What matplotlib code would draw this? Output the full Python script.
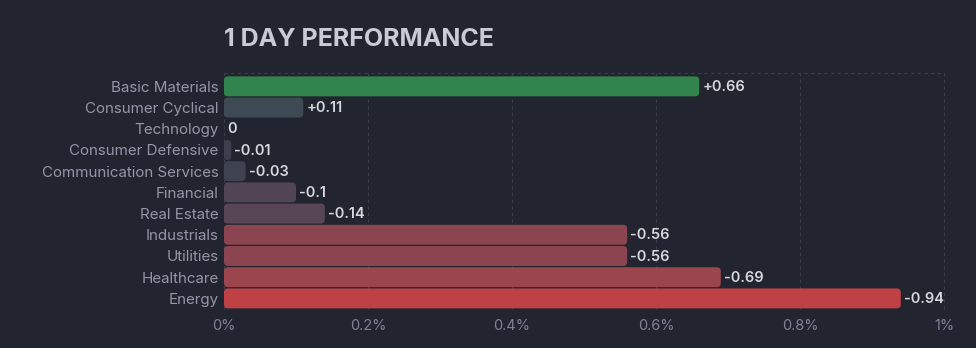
import matplotlib
matplotlib.use("Agg")
from matplotlib import pyplot as plt
from matplotlib.patches import FancyBboxPatch

sectors = ["Basic Materials", "Consumer Cyclical", "Technology", "Consumer Defensive",
           "Communication Services", "Financial", "Real Estate", "Industrials",
           "Utilities", "Healthcare", "Energy"]
changes = [0.66, 0.11, 0.0, -0.01, -0.03, -0.1, -0.14, -0.56, -0.56, -0.69, -0.94]
bar_colors = ["#31854c", "#3e4a53", "#3e4a53", "#3d404c", "#3f4250", "#514455",
              "#584556", "#8a4550", "#8a4550", "#9b454d", "#bf4146"]
xticks = [0, 0.2, 0.4, 0.6, 0.8, 1.0]
xtick_labels = ["0%", "0.2%", "0.4%", "0.6%", "0.8%", "1%"]

bg = "#22252f"
grid_c = "#3b3f4c"

plt.rcParams['font.family'] = ['Inter', 'DejaVu Sans']

fig = plt.figure(figsize=(9.76, 3.48), dpi=100, facecolor=bg)
ax = fig.add_axes([224 / 976, 1 - 309 / 348, 720 / 976, 236 / 348])
ax.set_facecolor(bg)

ax.set_xlim(0, 1.0)
ax.set_ylim(10.5, -0.63)

# px per data unit, used to keep the rounded corners round
px_x = 720 / 1.0
px_y = 236 / 11.13
radius_px = 4
bar_h = 0.94

for i, (v, c) in enumerate(zip(changes, bar_colors)):
    w = abs(v)
    if w > 0:
        r = min(radius_px / px_x, w / 2)
        box = FancyBboxPatch((0, i - bar_h / 2), w, bar_h,
                             boxstyle="round,pad=0,rounding_size=%f" % r,
                             mutation_aspect=px_x / px_y,
                             facecolor=c, edgecolor="none", zorder=3)
        ax.add_patch(box)
    if v > 0:
        lab = "+%g" % v
    elif v < 0:
        lab = "-%g" % abs(v)
    else:
        lab = "0"
    ax.text(w + 3 / px_x, i + 0.03, lab, va="center", ha="left", color="#d6d8de",
            fontsize=10.5, fontweight="semibold", zorder=4)

ax.set_yticks(range(len(sectors)))
ax.set_yticklabels(sectors, color="#9496a8", fontsize=10.9)
ax.set_xticks(xticks)
ax.set_xticklabels(xtick_labels, color="#7d8296", fontsize=10.5)
ax.tick_params(axis="both", length=0)
ax.tick_params(axis="y", pad=4)
ax.tick_params(axis="x", pad=7)

for s in ["left", "right", "bottom", "top"]:
    ax.spines[s].set_visible(False)
ax.grid(axis="x", color=grid_c, linestyle=(0, (3, 3)), linewidth=0.8, zorder=0)
ax.axhline(-0.63, color=grid_c, linestyle=(0, (3, 3)), linewidth=0.8, zorder=0)
ax.axhline(10.5, color=grid_c, linestyle=(0, (3, 3)), linewidth=0.8, zorder=0)
for line in ax.get_xgridlines():
    line.set_clip_on(False)

fig.text(224 / 976, 1 - 46 / 348, "1 DAY PERFORMANCE", color="#c8cad6",
         fontsize=18, fontweight="bold", ha="left", va="baseline")

fig.savefig("out.png", dpi=100, facecolor=bg)
